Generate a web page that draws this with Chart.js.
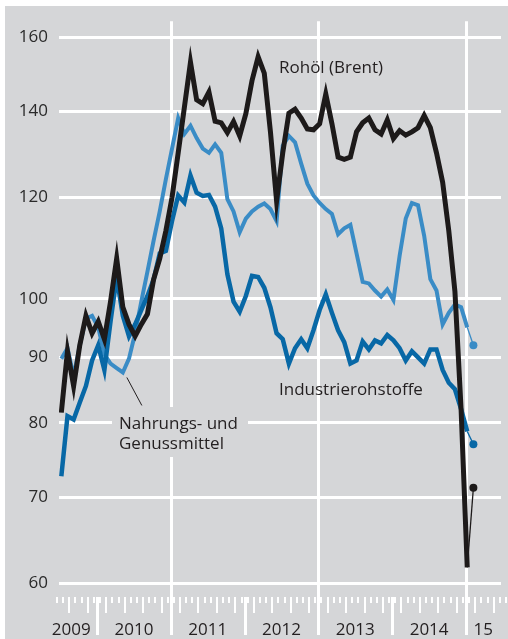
<!DOCTYPE html>
<html>
<head>
<meta charset="utf-8">
<script src="https://cdn.jsdelivr.net/npm/chart.js@4.4.1/dist/chart.umd.min.js"></script>
<style>
  html, body { margin: 0; padding: 0; background: #fff; }
  #wrap { position: relative; width: 508px; height: 639px; }
</style>
</head>
<body>
<div id="wrap"><canvas id="chart" width="508" height="639"></canvas></div>
<script>
// Monatswerte Juli 2009 bis Januar 2015, Index (2010 = 100), log. Maßstab
let months = [];
for (let y = 2009; y <= 2015; y++) {
    for (let m = 1; m <= 12; m++) {
        if (y === 2009 && m < 7) continue;
        if (y === 2015 && m > 1) break;
        months.push(y + '-' + String(m).padStart(2, '0'));
    }
}

const brent = [
    81.5, 91, 85.5, 92, 97, 94,
    96, 93, 99.5, 107.5, 98.5, 95.5, 93.5, 95.5, 97.3, 103.5, 107.5, 113,
    120, 130, 141, 153, 143, 142, 145, 137.6, 137.2, 134.8, 137.5, 134,
    139.5, 148, 154.5, 150, 135, 119.2, 130, 139.6, 140.6, 138.4, 135.7, 135.5,
    137, 144.5, 137, 129, 128.5, 129, 135, 137.2, 138.4, 135.5, 134.5, 137.9,
    133.4, 135.3, 134.2, 135, 136, 139, 136, 130, 123.3, 113, 101.3, 82,
    61.7
];
const food = [
    89.8, 91.5, 87, 92, 96.5, 97,
    95, 90.5, 89, 88.3, 87.6, 89.8, 94, 99.5, 105, 111, 117, 124,
    131, 138.4, 134.5, 136.5, 133.5, 131, 130, 132, 130, 119.6, 117, 112.7,
    115.5, 117, 118, 118.7, 117.5, 115, 131.7, 134, 132.5, 127.5, 123, 120.4,
    118.8, 117.5, 116.5, 112.3, 113.5, 114.2, 108.5, 103.1, 102.8, 101.5, 100.4, 101.7,
    99.8, 108, 115.5, 118.8, 118.3, 112, 103.6, 101.5, 95.5, 97.5, 99, 98.5,
    95
];
const industrial = [
    72.7, 81, 80.5, 83, 85.5, 89.5,
    92, 88, 96, 104, 97, 93.5, 95.5, 98, 100.5, 103.5, 108.5, 109,
    115, 120.4, 118.9, 124.8, 121, 120.3, 120.5, 118, 113.5, 104.5, 99.5, 97.7,
    100.5, 104.2, 104, 102, 98.5, 94, 93, 89, 91.5, 93, 91.5, 94.5,
    98, 100.8, 97.5, 94.5, 92.5, 89, 89.5, 92.6, 91.3, 92.8, 92.3, 93.7,
    92.8, 91.5, 89.5, 91, 90, 89, 91.3, 91.3, 88, 86, 85, 82,
    78.8
];

// letzter Stand (Februar 2015): Brent, Nahrung, Industrie
const latestMonth = '2015-02';
const latestValues = [71.2, 92, 77];

const yTicks = [60, 70, 80, 90, 100, 120, 140, 160];
const yearLabels = ['2009', '2010', '2011', '2012', '2013', '2014', '15'];
const yearLabelAt = [7.8, 18, 30, 42, 54, 66, 74.8];

const GREY = '#d5d6d8';
const INK = '#231f20';
const BLACK = '#1d1a1a';
const LIGHTBLUE = '#3a8cc6';
const DARKBLUE = '#0868a6';
const FONT = '17px "Open Sans"';

function monthPos(label) {
    let parts = label.split('-');
    return (Number(parts[0]) - 2009) * 12 + Number(parts[1]) - 1 + 0.2;
}

function toPoints(values) {
    return values.map((v, i) => ({ x: monthPos(months[i]), y: v }));
}

function connector(values, latest) {
    let last = values.length - 1;
    return [
        { x: monthPos(months[last]), y: values[last] },
        { x: monthPos(latestMonth), y: latest }
    ];
}

const backdrop = {
    id: 'backdrop',
    beforeDraw(chart) {
        let ctx = chart.ctx;
        ctx.save();
        ctx.fillStyle = '#fff';
        ctx.fillRect(0, 0, chart.width, chart.height);
        ctx.fillStyle = GREY;
        ctx.fillRect(5, 6, chart.width - 5, chart.height - 6);
        ctx.restore();
    }
};

const timeAxis = {
    id: 'timeAxis',
    beforeDatasetsDraw(chart) {
        let ctx = chart.ctx;
        let x = chart.scales.x;
        let top = chart.chartArea.top;
        let bottom = chart.chartArea.bottom;
        ctx.save();
        ctx.strokeStyle = '#fff';

        // Jahresgrenzen
        ctx.lineWidth = 3;
        for (let year = 2010; year <= 2015; year++) {
            let px = Math.round(x.getPixelForValue((year - 2009) * 12)) + 0.5;
            let fromY = (year % 2 === 1) ? top : bottom + 14;
            ctx.beginPath();
            ctx.moveTo(px, fromY);
            ctx.lineTo(px, bottom + 52);
            ctx.stroke();
        }

        // Monatsstriche
        ctx.lineWidth = 2;
        for (let k = 5; k <= 78; k++) {
            let px = Math.round(x.getPixelForValue(k + 0.5));
            let len = (k % 3 === 1) ? 16 : 6;
            ctx.beginPath();
            ctx.moveTo(px, bottom + 14);
            ctx.lineTo(px, bottom + 14 + len);
            ctx.stroke();
        }

        ctx.fillStyle = INK;
        ctx.font = FONT;
        ctx.textAlign = 'center';
        ctx.textBaseline = 'alphabetic';
        yearLabels.forEach((label, i) => {
            ctx.fillText(label, x.getPixelForValue(yearLabelAt[i]), bottom + 52);
        });
        ctx.restore();
    }
};

const seriesLabels = {
    id: 'seriesLabels',
    afterDraw(chart) {
        let ctx = chart.ctx;
        let x = chart.scales.x;
        let y = chart.scales.y;
        ctx.save();
        ctx.font = FONT;
        ctx.fillStyle = INK;
        ctx.textAlign = 'left';
        ctx.textBaseline = 'alphabetic';
        ctx.fillText('Rohöl (Brent)', 279, 73);
        ctx.fillText('Industrierohstoffe', 279, 395);

        ctx.fillStyle = GREY;
        ctx.fillRect(112, 407, 136, 50);
        ctx.fillStyle = INK;
        ctx.fillText('Nahrungs- und', 119, 429);
        ctx.fillText('Genussmittel', 119, 449);

        // Hinweislinie zur Nahrungsmittelkurve
        let sx = x.getPixelForValue(monthPos(months[10])) + 4;
        let sy = y.getPixelForValue(food[10]) + 5;
        ctx.strokeStyle = INK;
        ctx.lineWidth = 1;
        ctx.beginPath();
        ctx.moveTo(sx, sy);
        ctx.lineTo(sx + 15, sy + 28);
        ctx.stroke();
        ctx.restore();
    }
};

new Chart(document.getElementById('chart'), {
    type: 'line',
    data: {
        datasets: [
            { data: toPoints(brent), borderColor: BLACK, borderWidth: 5 },
            { data: toPoints(industrial), borderColor: DARKBLUE, borderWidth: 4.5 },
            { data: toPoints(food), borderColor: LIGHTBLUE, borderWidth: 4 },
            {
                data: connector(brent, latestValues[0]), borderColor: BLACK, borderWidth: 1.3,
                pointRadius: [0, 4], pointBackgroundColor: BLACK, pointBorderWidth: 0
            },
            {
                data: connector(food, latestValues[1]), borderColor: LIGHTBLUE, borderWidth: 1.3,
                pointRadius: [0, 4], pointBackgroundColor: LIGHTBLUE, pointBorderWidth: 0
            },
            {
                data: connector(industrial, latestValues[2]), borderColor: DARKBLUE, borderWidth: 1.3,
                pointRadius: [0, 4], pointBackgroundColor: DARKBLUE, pointBorderWidth: 0
            }
        ]
    },
    options: {
        responsive: false,
        animation: false,
        devicePixelRatio: 1,
        layout: { padding: { top: 18, bottom: 56, left: 0, right: 7 } },
        plugins: {
            legend: { display: false },
            tooltip: { enabled: false }
        },
        elements: {
            point: { radius: 0 },
            line: { tension: 0, borderCapStyle: 'butt', borderJoinStyle: 'miter' }
        },
        scales: {
            x: { type: 'linear', min: 5.82, max: 77.69, display: false },
            y: {
                type: 'logarithmic',
                min: 60,
                max: 164.7,
                afterBuildTicks: scale => { scale.ticks = yTicks.map(v => ({ value: v })); },
                afterFit: scale => { scale.width = 59; },
                grid: { color: '#fff', lineWidth: 3, drawTicks: false },
                border: { display: false },
                ticks: {
                    padding: 11,
                    color: '#2a2a2a',
                    font: { family: 'Open Sans', size: 17 },
                    callback: v => String(v)
                }
            }
        }
    },
    plugins: [backdrop, timeAxis, seriesLabels]
});
</script>
</body>
</html>
